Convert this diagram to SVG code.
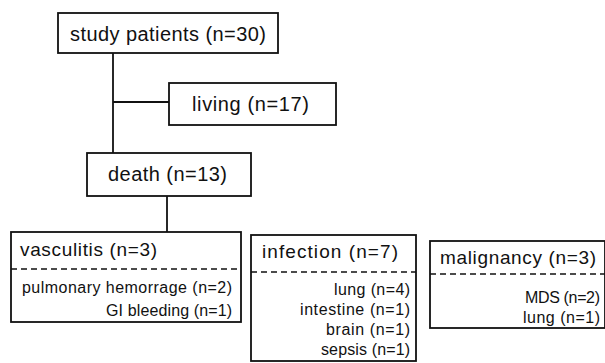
<svg xmlns="http://www.w3.org/2000/svg" width="605" height="363" viewBox="0 0 605 363">
<style>
.box{fill:#fff;stroke:#111;stroke-width:1.8}
.dash{stroke:#111;stroke-width:1.6;stroke-dasharray:6,4;fill:none}
.conn{stroke:#111;stroke-width:1.8;fill:none}
.t{font-family:"Liberation Sans",Arial,sans-serif;fill:#111;font-size:20px}
.h{font-family:"Liberation Sans",Arial,sans-serif;fill:#111;font-size:19px}
.s{font-family:"Liberation Sans",Arial,sans-serif;fill:#111;font-size:16px;text-anchor:end}
</style>
<rect width="605" height="363" fill="#fff"/>
<g id="connectors">
<line class="conn" x1="113" y1="53" x2="113" y2="153"/>
<line class="conn" x1="113" y1="102" x2="169" y2="102"/>
<line class="conn" x1="167" y1="196" x2="167" y2="232"/>
</g>
<g id="study">
<rect class="box" x="58" y="13" width="220" height="40"/>
<text class="t" x="70" y="41" textLength="196">study patients (n=30)</text>
</g>
<g id="living">
<rect class="box" x="169" y="83" width="167" height="42"/>
<text class="t" x="192" y="111" textLength="117">living (n=17)</text>
</g>
<g id="death">
<rect class="box" x="87" y="153" width="164" height="43"/>
<text class="t" x="108" y="181" textLength="119">death (n=13)</text>
</g>
<g id="vasculitis">
<rect class="box" x="11" y="232" width="230" height="90"/>
<line class="dash" x1="11" y1="269" x2="241" y2="269"/>
<text class="h" x="20" y="256" textLength="137">vasculitis (n=3)</text>
<text class="s" x="232" y="293" textLength="210">pulmonary hemorrage (n=2)</text>
<text class="s" x="232" y="316" textLength="126">GI bleeding (n=1)</text>
</g>
<g id="infection">
<rect class="box" x="251" y="235" width="165" height="126"/>
<line class="dash" x1="251" y1="272" x2="416" y2="272"/>
<text class="h" x="262" y="258" textLength="136">infection (n=7)</text>
<text class="s" x="410" y="295" textLength="76">lung (n=4)</text>
<text class="s" x="410" y="315" textLength="110">intestine (n=1)</text>
<text class="s" x="410" y="335" textLength="84">brain (n=1)</text>
<text class="s" x="410" y="355" textLength="89">sepsis (n=1)</text>
</g>
<g id="malignancy">
<rect class="box" x="430" y="241" width="175" height="87"/>
<line class="dash" x1="430" y1="274" x2="605" y2="274"/>
<text class="h" x="440" y="264" textLength="156">malignancy (n=3)</text>
<text class="s" x="600" y="303" textLength="75">MDS (n=2)</text>
<text class="s" x="600" y="323" textLength="77">lung (n=1)</text>
</g>
</svg>
